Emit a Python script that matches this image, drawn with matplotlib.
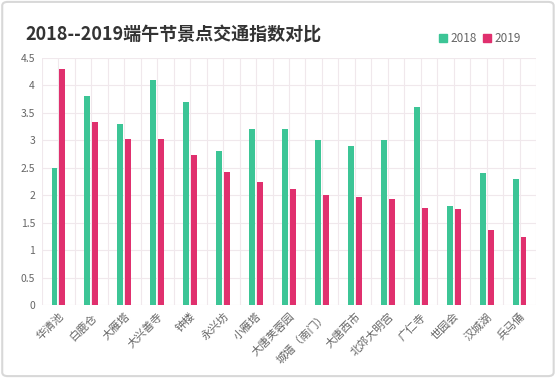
import matplotlib.pyplot as plt
import matplotlib.patches as mpatches
import numpy as np

plt.rcParams['font.family'] = ['Noto Sans CJK SC', 'DejaVu Sans']

spots = ['华清池', '白鹿仓', '大雁塔', '大兴善寺', '钟楼', '永兴坊', '小雁塔', '大唐芙蓉园',
         '城墙（南门）', '大唐西市', '北郊大明宫', '广仁寺', '世园会', '汉城湖', '兵马俑']
idx_2018 = [2.5, 3.8, 3.3, 4.1, 3.7, 2.8, 3.2, 3.2, 3.0, 2.9, 3.0, 3.6, 1.8, 2.4, 2.3]
idx_2019 = [4.3, 3.33, 3.02, 3.02, 2.74, 2.43, 2.24, 2.12, 2.0, 1.98, 1.93, 1.78, 1.75, 1.38, 1.25]
yticks = [0, 0.5, 1, 1.5, 2, 2.5, 3, 3.5, 4, 4.5]

green = '#3cc596'
pink = '#e0306e'

fig = plt.figure(figsize=(5.57, 3.78), dpi=100)
ax = fig.add_axes([0.0754, 0.1918, 0.8869, 0.6548])

x = np.arange(len(spots))
w = 0.18
ax.bar(x - 0.12, idx_2018, w, color=green, label='2018', zorder=3)
ax.bar(x + 0.12, idx_2019, w, color=pink, label='2019', zorder=3)

ax.set_xlim(-0.5, len(spots) - 0.5)
ax.set_ylim(0, 4.5)
ax.set_yticks(yticks)
ax.set_yticklabels([f'{v:g}' for v in yticks])

# 网格：类别中心和边界都画竖线
ax.set_xticks(x)
ax.set_xticks(np.arange(-0.5, len(spots), 1), minor=True)
ax.set_xticklabels(spots, rotation=45, ha='right', rotation_mode='anchor')
ax.grid(True, which='both', axis='x', color='#f0e8ec', lw=0.8, zorder=0)
ax.grid(True, which='major', axis='y', color='#f0e8ec', lw=0.8, zorder=0)
ax.tick_params(axis='both', which='both', length=0, colors='#666666')
ax.tick_params(axis='x', labelsize=8, pad=4)
ax.tick_params(axis='y', labelsize=7.5, pad=5)
for s in ax.spines.values():
    s.set_visible(False)

fig.text(0.045, 0.91, '2018--2019端午节景点交通指数对比', fontsize=13, fontweight='bold',
         color='#333333', va='center', ha='left')

handles = [mpatches.Patch(color=green), mpatches.Patch(color=pink)]
fig.legend(handles, ['2018', '2019'], loc='center', bbox_to_anchor=(0.862, 0.897), ncol=2,
           frameon=False, fontsize=8.5, handlelength=0.7, handleheight=0.7,
           handletextpad=0.3, columnspacing=0.5, labelcolor='#666666')

# 外框
fig.patches.append(mpatches.FancyBboxPatch((0.004, 0.005), 0.99, 0.99, boxstyle='round,pad=0,rounding_size=0.01',
                                           transform=fig.transFigure, fill=False,
                                           edgecolor='#d8d8d8', lw=1.5))

plt.savefig('out.png', dpi=100)
